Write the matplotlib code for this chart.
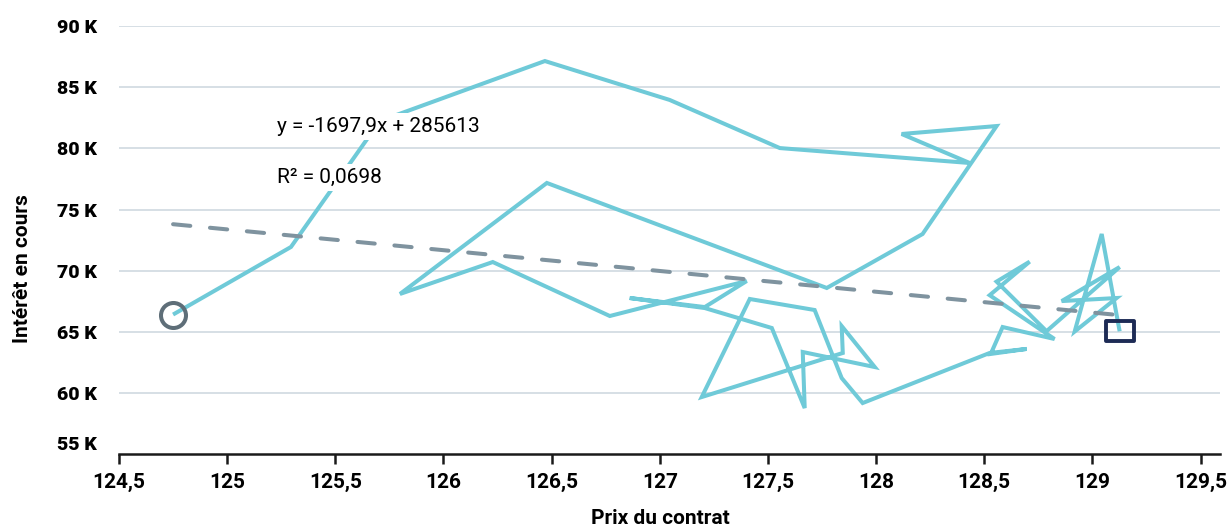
import matplotlib
matplotlib.use("Agg")
import matplotlib.pyplot as plt
import numpy as np
from matplotlib.path import Path
from matplotlib.ticker import FixedLocator, FuncFormatter

# Weekly contract price vs open interest (thousands of contracts)
price = [124.750, 125.295, 125.706, 126.469, 127.046, 127.555, 128.433, 128.118,
         128.557, 128.215, 127.772, 126.478, 125.799, 126.228, 126.769, 127.402,
         127.208, 126.861, 127.208, 127.518, 127.670, 127.661, 127.994, 127.841,
         127.846, 127.194, 127.416, 127.716, 127.841, 127.938, 128.525, 128.696,
         128.530, 128.585, 128.825, 128.525, 128.710, 128.557, 128.788, 129.126,
         128.858, 129.112, 128.918, 129.043, 129.126]
open_interest = [66.42, 71.94, 82.23, 87.13, 83.95, 80.02, 78.80, 81.17,
                 81.82, 73.00, 68.59, 77.17, 68.10, 70.71, 66.30, 69.16,
                 67.03, 67.77, 66.95, 65.32, 58.78, 63.36, 62.13, 65.48,
                 63.28, 59.68, 67.69, 66.79, 61.23, 59.19, 63.28, 63.61,
                 63.20, 65.40, 64.42, 68.00, 70.74, 69.11, 65.06, 70.30,
                 67.52, 67.77, 65.03, 73.00, 65.05]

# Linear trend as reported
slope, intercept = -1697.9, 285613
r_squared = "0,0698"

x_ticks = [124.5, 125, 125.5, 126, 126.5, 127, 127.5, 128, 128.5, 129, 129.5]
y_ticks = [55, 60, 65, 70, 75, 80, 85, 90]

line_color = "#6fcad8"
trend_color = "#7f939f"
grid_color = "#d3dce3"
sans = ["Roboto", "DejaVu Sans"]

fig = plt.figure(figsize=(12.28, 5.32), dpi=100)
ax = fig.add_axes([0.0969, 0.146, 0.8966, 0.8053])
ax.set_xlim(124.5, 129.59)
ax.set_ylim(55, 90)

for yv in y_ticks[1:]:
    ax.axhline(yv, color=grid_color, lw=1.3, zorder=0)

ax.plot(price, open_interest, color=line_color, lw=2.9, solid_joinstyle="miter",
        solid_capstyle="butt", zorder=2)

tx = np.array([min(price), max(price)])
ty = (slope * tx + intercept) / 1000.0
ax.plot(tx, ty, color=trend_color, lw=2.9, dashes=(4.3, 4.9), dash_capstyle="round",
        zorder=3)

# Start and end markers
ax.plot(price[0], open_interest[0], marker="o", ms=18, mfc="none", mec="#5e6e78",
        mew=2.9, zorder=4)
rect = Path([(-1.45, -1), (1.45, -1), (1.45, 1), (-1.45, 1), (-1.45, -1)],
            [Path.MOVETO, Path.LINETO, Path.LINETO, Path.LINETO, Path.CLOSEPOLY])
ax.plot(price[-1], open_interest[-1], marker=rect, ms=20, mfc="none", mec="#1d2b55",
        mew=2.8, zorder=4)

for s in ["top", "right", "left"]:
    ax.spines[s].set_visible(False)
ax.spines["bottom"].set_linewidth(1.8)
ax.spines["bottom"].set_color("#1a1a1a")

ax.xaxis.set_major_locator(FixedLocator(x_ticks))
ax.xaxis.set_major_formatter(FuncFormatter(lambda v, p: f"{v:g}".replace(".", ",")))
ax.yaxis.set_major_locator(FixedLocator(y_ticks))
ax.yaxis.set_major_formatter(
    FuncFormatter(lambda v, p: "" if v == y_ticks[0] else f"{v:g} K"))
ax.tick_params(axis="x", length=7.2, width=1.8, color="#1a1a1a", pad=6.5)
ax.tick_params(axis="y", length=0, pad=16)
for lab in ax.get_xticklabels():
    lab.set_family(sans)
    lab.set_fontweight("bold")
    lab.set_fontsize(15)
for lab in ax.get_yticklabels():
    lab.set_family(sans)
    lab.set_fontweight("black")
    lab.set_fontsize(14)
# lowest value label sits just above the baseline
ax.annotate(f"{y_ticks[0]:g} K", xy=(0, y_ticks[0]), xycoords=("axes fraction", "data"),
            xytext=(-16, 6.5), textcoords="offset points", ha="right", va="center",
            family=sans, fontweight="black", fontsize=14)

fig.text(660 / 1228, 1 - 518 / 532, "Prix du contrat", family=sans,
         fontweight="bold", fontsize=15, ha="center", va="center")
fig.text(23 / 1228, 1 - 269 / 532, "Intérêt en cours", family=sans,
         fontweight="bold", fontsize=15, ha="center", va="center", rotation=90)

box = dict(facecolor="white", edgecolor="none", pad=3)
ax.text(125.23, 81.33, f"y = {slope:g}x + {intercept}".replace(".", ","),
        family=sans, fontsize=15, va="baseline", ha="left", bbox=box, zorder=5)
ax.text(125.23, 77.17, f"R² = {r_squared}", family=sans,
        fontsize=15, va="baseline", ha="left", bbox=box, zorder=5)

fig.savefig("out.png", dpi=100)
